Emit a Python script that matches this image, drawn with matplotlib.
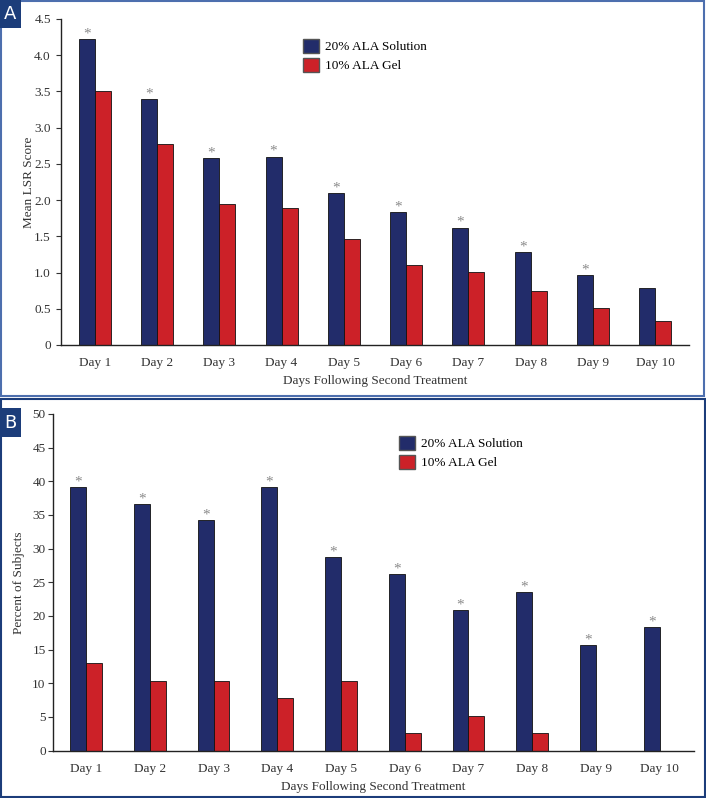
import numpy as np
import matplotlib
matplotlib.use("Agg")
import matplotlib.pyplot as plt
from matplotlib.patches import Patch, Rectangle

plt.rcParams.update({
    "font.family": ["Liberation Serif", "DejaVu Serif"], "font.size": 9.5,
    "axes.linewidth": 1.0, "axes.edgecolor": "#222", "xtick.color": "#333",
    "ytick.color": "#333", "axes.labelcolor": "#333",
})

SOL_COL, GEL_COL = "#222c6a", "#cc2128"
FRAME_COL, TAG_COL = "#4d6fae", "#1c3d7a"

days = [f"Day {i}" for i in range(1, 11)]
series = ["20% ALA Solution", "10% ALA Gel"]

# panel A: mean LSR score
lsr_sol = [4.22, 3.40, 2.58, 2.60, 2.10, 1.84, 1.62, 1.28, 0.97, 0.78]
lsr_gel = [3.50, 2.78, 1.94, 1.89, 1.47, 1.10, 1.01, 0.74, 0.51, 0.33]
lsr_star = [True] * 9 + [False]
lsr_ticks = [0, 0.5, 1.0, 1.5, 2.0, 2.5, 3.0, 3.5, 4.0, 4.5]
lsr_ticklabels = ["0", "0.5", "1.0", "1.5", "2.0", "2.5", "3.0", "3.5", "4.0", "4.5"]

# panel B: percent of subjects
pct_sol = [39.2, 36.6, 34.2, 39.2, 28.8, 26.2, 20.9, 23.6, 15.7, 18.4]
pct_gel = [13.0, 10.4, 10.4, 7.8, 10.4, 2.6, 5.2, 2.6, 0, 0]
pct_star = [True] * 10
pct_ticks = list(range(0, 55, 5))

W, H = 706, 798
fig = plt.figure(figsize=(W / 100, H / 100), dpi=100)


def px_axes(l, t, r, b):
    return fig.add_axes([l / W, 1 - b / H, (r - l) / W, (b - t) / H])


def panel(ax, sol, gel, stars, ticks, ticklabels, ylabel, ylabelpad, ytickpad, xlim, w, leg_xy):
    x = np.arange(len(days))
    ax.bar(x - w / 2, sol, w, color=SOL_COL, edgecolor="#111", linewidth=0.6)
    ax.bar(x + w / 2, gel, w, color=GEL_COL, edgecolor="#111", linewidth=0.6)
    for xi, v, s in zip(x, sol, stars):
        if s:
            ax.annotate("*", (xi - w / 2, v), textcoords="offset points", xytext=(0, -1),
                        ha="center", va="bottom", fontsize=11, color="#8a8a8a")
    ax.set_xlim(*xlim)
    ax.set_ylim(ticks[0], ticks[-1])
    ax.set_yticks(ticks)
    ax.set_yticklabels(ticklabels)
    ax.set_xticks(x)
    ax.set_xticklabels(days)
    ax.tick_params(axis="x", length=0, pad=9)
    ax.tick_params(axis="y", length=3.8, width=0.8, pad=ytickpad)
    ax.set_xlabel("Days Following Second Treatment", labelpad=4)
    ax.set_ylabel(ylabel, labelpad=ylabelpad)
    ax.spines[["top", "right"]].set_visible(False)
    leg = [Patch(facecolor=SOL_COL, edgecolor="#555", label=series[0]),
           Patch(facecolor=GEL_COL, edgecolor="#555", label=series[1])]
    ax.legend(handles=leg, frameon=False, loc="upper left", borderpad=0, borderaxespad=0,
              handlelength=1.25, handleheight=1.25, handletextpad=0.4, labelspacing=0.35,
              bbox_to_anchor=(leg_xy[0] / W, 1 - leg_xy[1] / H), bbox_transform=fig.transFigure)


axA = px_axes(61, 19, 689, 345)
panel(axA, lsr_sol, lsr_gel, lsr_star, lsr_ticks, lsr_ticklabels, "Mean LSR Score", -1, 3.5,
      (-0.54, 9.54), 0.257, (303, 39))

axB = px_axes(53, 414, 694, 750.5)
panel(axB, pct_sol, pct_gel, pct_star, pct_ticks, [str(t) for t in pct_ticks], "Percent of Subjects", 5, 1.5,
      (-0.52, 9.54), 0.25, (399, 436))

# panel frames and letter tags
fig.patches.append(Rectangle((1 / W, 1 - 396 / H), 703 / W, 395 / H, transform=fig.transFigure,
                             fill=False, edgecolor=FRAME_COL, linewidth=1.5))
fig.patches.append(Rectangle((1 / W, 1 - 797 / H), 704 / W, 398 / H, transform=fig.transFigure,
                             fill=False, edgecolor=TAG_COL, linewidth=1.5))
for tag, top, bot in [("A", 0, 28), ("B", 408, 437)]:
    fig.patches.append(Rectangle((0, 1 - bot / H), 21 / W, (bot - top) / H, transform=fig.transFigure,
                                 facecolor=TAG_COL, edgecolor="none"))
    fig.text(10.5 / W, 1 - (top + bot) / 2 / H, tag, color="white", ha="center", va="center",
             fontsize=13, family=["Liberation Sans Narrow", "DejaVu Sans"])

fig.savefig("out.png", dpi=100)
